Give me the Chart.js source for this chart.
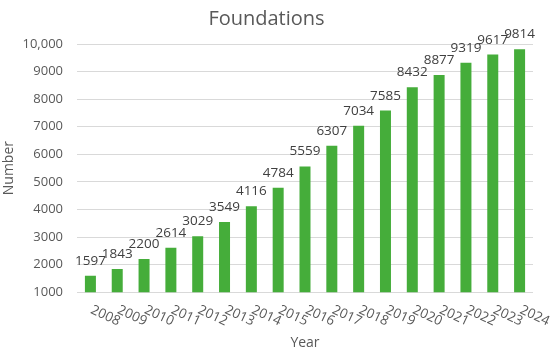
<!DOCTYPE html>
<html>
<head>
<meta charset="utf-8">
<script src="https://cdn.jsdelivr.net/npm/chart.js@4"></script>
<style>
  html, body { margin: 0; padding: 0; background: #fff; }
  #wrap { width: 550px; height: 352px; }
</style>
</head>
<body>
<div id="wrap"><canvas id="foundationsChart"></canvas></div>
<script>
const years = ["2008", "2009", "2010", "2011", "2012", "2013", "2014", "2015", "2016",
               "2017", "2018", "2019", "2020", "2021", "2022", "2023", "2024"];
const foundations = [1597, 1843, 2200, 2614, 3029, 3549, 4116, 4784, 5559,
                     6307, 7034, 7585, 8432, 8877, 9319, 9617, 9814];
const yTicks = [1000, 2000, 3000, 4000, 5000, 6000, 7000, 8000, 9000, 10000];

const FONT = "'Open Sans', sans-serif";
const GRAY = "#595959";

// x labels are slanted clockwise, which chart.js can't do itself
const slantedLabels = {
    id: "slantedLabels",
    afterDraw(chart) {
        const ctx = chart.ctx;
        const xs = chart.scales.x;
        ctx.save();
        ctx.font = "13.5px " + FONT;
        ctx.fillStyle = GRAY;
        ctx.textAlign = "left";
        ctx.textBaseline = "middle";
        years.forEach((y, i) => {
            ctx.save();
            ctx.translate(xs.getPixelForTick(i) + 1, xs.top + 17);
            ctx.rotate(25 * Math.PI / 180);
            ctx.fillText(y, 0, 0);
            ctx.restore();
        });
        ctx.restore();
    }
};

const valueLabels = {
    id: "valueLabels",
    afterDatasetsDraw(chart) {
        const ctx = chart.ctx;
        const meta = chart.getDatasetMeta(0);
        ctx.save();
        ctx.font = "13.5px " + FONT;
        ctx.fillStyle = "#404040";
        ctx.textAlign = "center";
        ctx.textBaseline = "alphabetic";
        meta.data.forEach((bar, i) => {
            ctx.fillText(String(foundations[i]), bar.x, bar.y - 11);
        });
        ctx.restore();
    }
};

new Chart(document.getElementById("foundationsChart"), {
    type: "bar",
    data: {
        labels: years,
        datasets: [{
            data: foundations,
            backgroundColor: "#45AD3A",
            barPercentage: 0.41,
            categoryPercentage: 1
        }]
    },
    options: {
        responsive: true,
        maintainAspectRatio: false,
        animation: false,
        layout: { padding: { left: 0, right: 17, top: 0, bottom: 0 } },
        plugins: {
            legend: { display: false },
            tooltip: { enabled: false },
            title: {
                display: true,
                text: "Foundations",
                color: GRAY,
                font: { family: FONT, size: 20, weight: "normal" },
                padding: { top: 7, bottom: 13 }
            }
        },
        scales: {
            x: {
                grid: { display: false, drawTicks: false },
                border: { display: false },
                ticks: { display: false },
                title: {
                    display: true,
                    text: "Year",
                    color: GRAY,
                    font: { family: FONT, size: 14 },
                    padding: { top: 42, bottom: 1 }
                }
            },
            y: {
                min: 1000,
                max: 10000,
                afterBuildTicks(scale) {
                    scale.ticks = yTicks.map(v => ({ value: v }));
                },
                afterFit(scale) { scale.width = 77; },
                grid: { color: "#D9D9D9", lineWidth: 1, drawTicks: false },
                border: { display: false },
                ticks: {
                    color: GRAY,
                    font: { family: FONT, size: 13 },
                    padding: 14,
                    callback: v => v === 10000 ? "10,000" : String(v)
                },
                title: {
                    display: true,
                    text: "Number",
                    color: GRAY,
                    font: { family: FONT, size: 14 },
                    padding: 1
                }
            }
        }
    },
    plugins: [slantedLabels, valueLabels]
});
</script>
</body>
</html>
